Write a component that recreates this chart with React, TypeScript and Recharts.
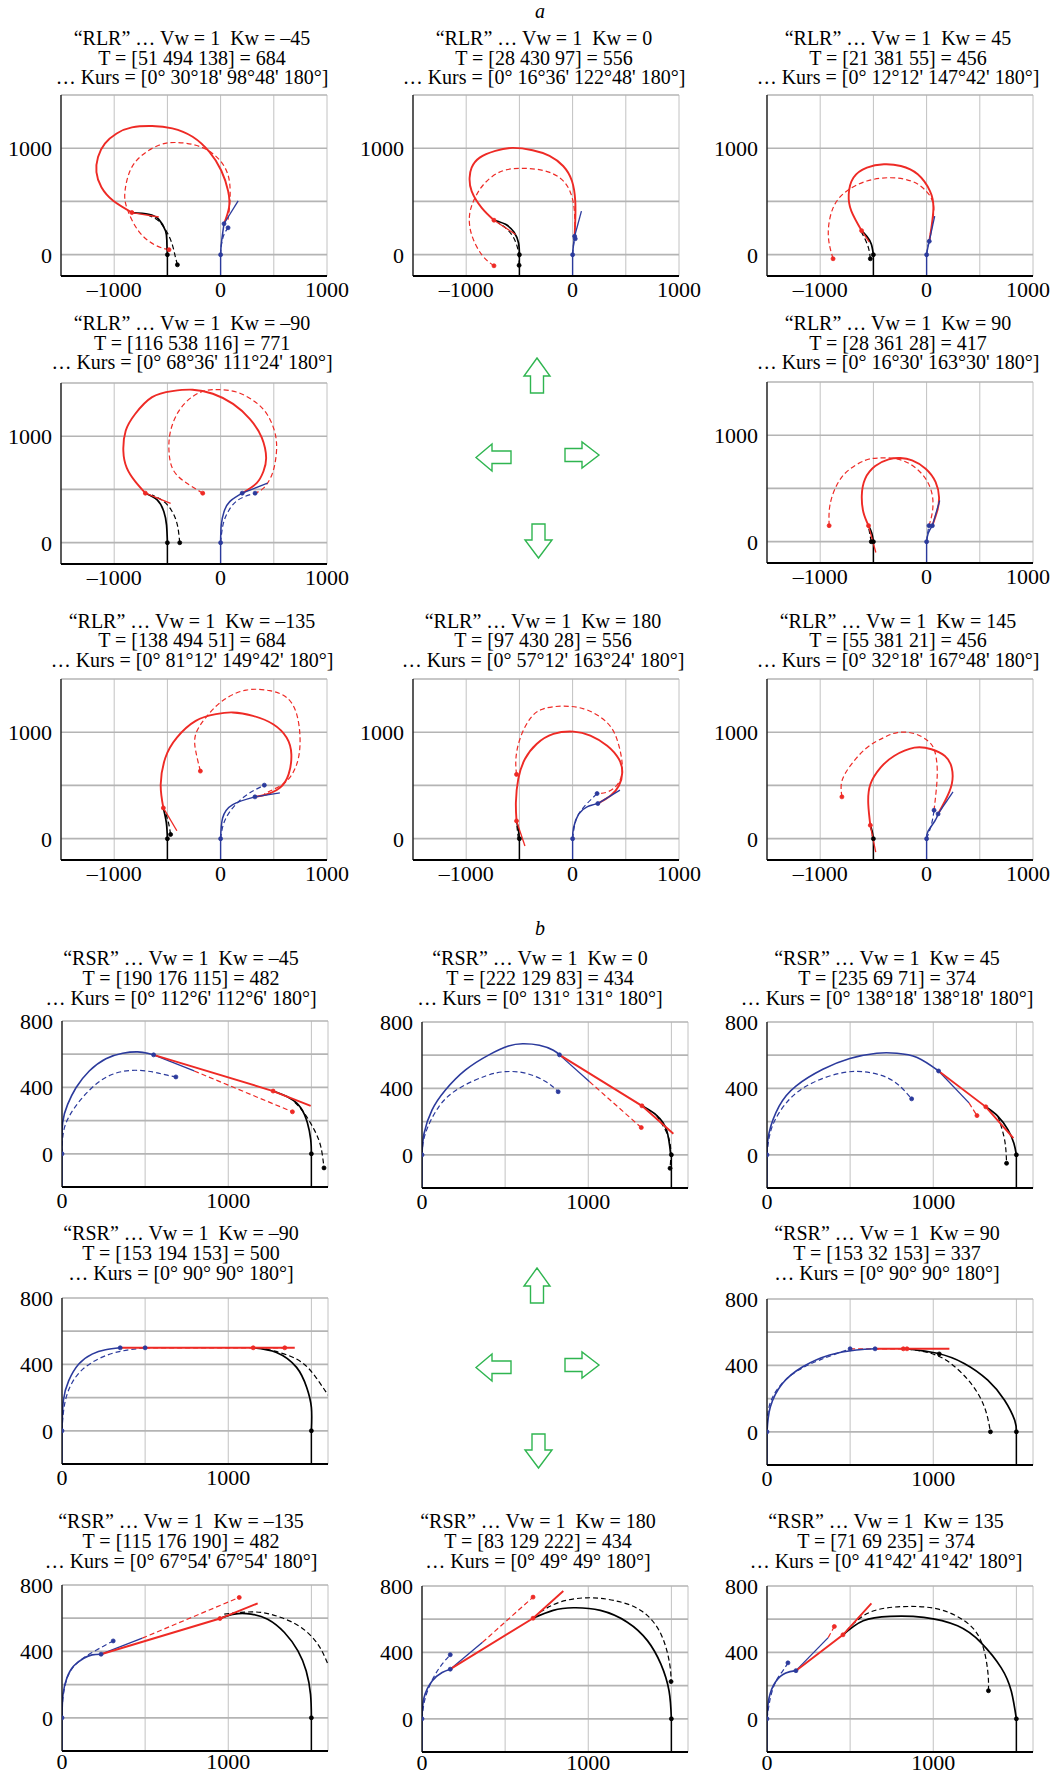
import React from 'react';
import { ComposedChart, Line, XAxis, YAxis, CartesianGrid } from 'recharts';

type P = [number, number];

// ---------- axis ticks / labels ----------
const aXTicks = [-1500, -1000, -500, 0, 500, 1000];
const aXLabels = [-1000, 0, 1000];
const aYTicks = [0, 500, 1000, 1500];
const aYLabels = [0, 1000];
const bXTicks = [0, 500, 1000, 1500];
const bXLabels = [0, 1000];
const bYTicks = [0, 200, 400, 600, 800];
const bYLabels = [0, 400, 800];

// ---------- common stems ----------
const aBlackStem: P[] = [[-500, -200], [-500, 0]];
const aBlueStem: P[] = [[0, -200], [0, 0]];
const bBlueStem: P[] = [[0, -200], [0, 0]];
const bBlackStem: P[] = [[1500, -200], [1500, 0]];

// ---------- panel a1 (RLR, Kw=-45) ----------
const a1Black: P[] = [[-500, 0], [-505, 120], [-517, 222], [-581, 332], [-676, 380], [-834, 396]];
const a1BlackDash: P[] = [[-406, -95], [-430, 0], [-454, 95], [-501, 206], [-581, 316], [-680, 372]];
const a1Red: P[] = [[-834, 396], [-1009, 506], [-1120, 633], [-1167, 775], [-1152, 918], [-1088, 1044], [-977, 1139], [-834, 1196], [-644, 1209], [-454, 1187], [-263, 1108], [-105, 965], [6, 791], [70, 601], [79, 443], [32, 291]];
const a1RedTan: P[] = [[-834, 396], [-581, 354]];
const a1RedDash: P[] = [[-485, 47], [-612, 89], [-771, 222], [-882, 443], [-898, 601], [-850, 791], [-739, 934], [-581, 1028], [-422, 1054], [-232, 1028], [-73, 949], [38, 823], [86, 665], [86, 475], [70, 330]];
const a1Blue: P[] = [[0, 0], [6, 95], [22, 222], [32, 291]];
const a1BlueTan: P[] = [[32, 291], [165, 506]];
const a1BlueDash: P[] = [[0, 0], [8, 95], [32, 190], [70, 253]];
const a1BlackDots: P[] = [[-500, 0], [-406, -95]];
const a1RedDots: P[] = [[-834, 396], [-485, 47]];
const a1BlueDots: P[] = [[0, 0], [32, 291], [70, 253]];

// ---------- panel a2 (RLR, Kw=0) ----------
const a2Black: P[] = [[-500, 0], [-508, 110], [-550, 210], [-630, 285], [-739, 324]];
const a2BlackDash: P[] = [[-503, -100], [-510, 30], [-560, 170], [-640, 260], [-700, 300]];
const a2Red: P[] = [[-739, 324], [-854, 440], [-949, 597], [-968, 723], [-949, 818], [-873, 912], [-726, 975], [-567, 1003], [-376, 981], [-217, 928], [-89, 833], [-6, 692], [25, 503], [25, 314], [19, 173]];
const a2RedTan: P[] = [[-739, 324], [-535, 189]];
const a2RedDash: P[] = [[-739, -104], [-854, 0], [-949, 189], [-968, 377], [-917, 535], [-822, 676], [-662, 786], [-471, 811], [-280, 792], [-121, 723], [-25, 597], [15, 430], [22, 250]];
const a2Blue: P[] = [[0, 0], [8, 90], [19, 173]];
const a2BlueTan: P[] = [[19, 173], [83, 409]];
const a2BlueDash: P[] = [[0, 0], [10, 100], [25, 160]];
const a2BlackDots: P[] = [[-500, 0], [-503, -100]];
const a2RedDots: P[] = [[-739, 324], [-739, -104]];
const a2BlueDots: P[] = [[0, 0], [19, 173], [25, 150]];

// ---------- panel a3 (RLR, Kw=45) ----------
const a3Black: P[] = [[-500, 0], [-520, 100], [-560, 170], [-611, 226]];
const a3BlackDash: P[] = [[-529, -38], [-545, 60], [-580, 150], [-611, 210]];
const a3Red: P[] = [[-611, 226], [-707, 409], [-732, 566], [-688, 723], [-561, 818], [-401, 849], [-242, 833], [-83, 755], [32, 597], [64, 440], [45, 252], [25, 126]];
const a3RedTan: P[] = [[-611, 226], [-540, 120]];
const a3RedDash: P[] = [[-879, -38], [-924, 189], [-879, 440], [-752, 597], [-561, 692], [-338, 723], [-146, 692], [-19, 613], [64, 472], [50, 280], [25, 126]];
const a3Blue: P[] = [[0, 0], [10, 60], [25, 126]];
const a3BlueTan: P[] = [[25, 126], [76, 362]];
const a3BlueDash: P[] = [[0, 0], [8, 60], [18, 110]];
const a3BlackDots: P[] = [[-500, 0], [-529, -38]];
const a3RedDots: P[] = [[-611, 226], [-879, -38]];
const a3BlueDots: P[] = [[0, 0], [25, 126]];

// ---------- panel a4 (RLR, Kw=-90) ----------
const a4Black: P[] = [[-500, 0], [-508, 165], [-533, 291], [-596, 402], [-707, 465]];
const a4BlackDash: P[] = [[-384, 0], [-406, 165], [-454, 291], [-533, 386], [-644, 449]];
const a4Red: P[] = [[-707, 465], [-803, 576], [-882, 703], [-914, 861], [-892, 1051], [-803, 1209], [-644, 1367], [-454, 1424], [-263, 1437], [-73, 1399], [117, 1304], [276, 1161], [387, 987], [428, 797], [403, 671], [339, 560], [203, 465]];
const a4RedTan: P[] = [[-707, 465], [-470, 370]];
const a4RedDash: P[] = [[-168, 465], [-295, 544], [-438, 671], [-485, 861], [-470, 1051], [-390, 1241], [-263, 1373], [-136, 1430], [-10, 1437], [149, 1415], [308, 1335], [435, 1209], [514, 1019], [523, 829], [482, 639], [403, 513], [324, 465]];
const a4Blue: P[] = [[0, 0], [6, 165], [32, 291], [86, 386], [203, 465]];
const a4BlueTan: P[] = [[203, 465], [441, 560]];
const a4BlueDash: P[] = [[0, 0], [22, 165], [70, 291], [165, 402], [324, 465]];
const a4BlackDots: P[] = [[-500, 0], [-384, 0]];
const a4RedDots: P[] = [[-707, 465], [-168, 465]];
const a4BlueDots: P[] = [[0, 0], [203, 465], [324, 465]];

// ---------- panel a6 (RLR, Kw=90) ----------
const a6Black: P[] = [[-500, 0], [-515, 80], [-546, 151]];
const a6BlackDash: P[] = [[-520, 0], [-535, 80], [-546, 140]];
const a6Red: P[] = [[-546, 151], [-594, 277], [-609, 434], [-578, 591], [-483, 711], [-357, 774], [-246, 786], [-136, 764], [-9, 686], [85, 560], [117, 418], [101, 292], [54, 151]];
const a6RedTan: P[] = [[-546, 151], [-477, -101]];
const a6RedDash: P[] = [[-916, 151], [-909, 340], [-846, 528], [-736, 670], [-578, 764], [-452, 786], [-294, 780], [-136, 717], [-9, 591], [54, 434], [54, 277], [22, 151]];
const a6Blue: P[] = [[0, 0], [15, 80], [54, 151]];
const a6BlueTan: P[] = [[54, 151], [123, 387]];
const a6BlueDash: P[] = [[0, 0], [10, 80], [22, 151]];
const a6BlackDots: P[] = [[-500, 0], [-520, 0]];
const a6RedDots: P[] = [[-546, 151], [-916, 151]];
const a6BlueDots: P[] = [[0, 0], [54, 151], [22, 151]];

// ---------- panel a7 (RLR, Kw=-135) ----------
const a7Black: P[] = [[-500, 0], [-510, 150], [-538, 289]];
const a7BlackDash: P[] = [[-470, 40], [-490, 150], [-520, 250]];
const a7Red: P[] = [[-538, 289], [-563, 509], [-519, 761], [-411, 950], [-234, 1107], [-44, 1170], [114, 1186], [304, 1154], [494, 1075], [620, 950], [665, 792], [639, 604], [557, 478], [430, 415], [323, 393]];
const a7RedTan: P[] = [[-538, 289], [-411, 75]];
const a7RedDash: P[] = [[-190, 635], [-234, 824], [-234, 981], [-139, 1138], [19, 1296], [240, 1396], [462, 1390], [620, 1327], [715, 1170], [747, 918], [715, 698], [620, 541], [494, 462], [411, 420]];
const a7Blue: P[] = [[0, 0], [19, 195], [114, 321], [323, 393]];
const a7BlueTan: P[] = [[323, 393], [557, 431]];
const a7BlueDash: P[] = [[0, 0], [51, 195], [209, 384], [411, 503]];
const a7BlackDots: P[] = [[-500, 0], [-470, 40]];
const a7RedDots: P[] = [[-538, 289], [-190, 635]];
const a7BlueDots: P[] = [[0, 0], [323, 393], [411, 503]];

// ---------- panel a8 (RLR, Kw=180) ----------
const a8Black: P[] = [[-500, 0], [-510, 90], [-527, 167]];
const a8BlackDash: P[] = [[-510, 0], [-520, 90], [-527, 150]];
const a8Red: P[] = [[-527, 167], [-533, 340], [-511, 560], [-448, 748], [-338, 890], [-180, 984], [9, 1006], [167, 969], [325, 874], [435, 748], [467, 623], [435, 497], [356, 403], [237, 330]];
const a8RedTan: P[] = [[-527, 167], [-448, -69]];
const a8RedDash: P[] = [[-527, 604], [-533, 748], [-495, 937], [-401, 1126], [-274, 1220], [-85, 1245], [104, 1220], [262, 1142], [372, 1031], [435, 874], [467, 686], [435, 528], [330, 440], [230, 424]];
const a8Blue: P[] = [[0, 0], [9, 104], [57, 230], [136, 299], [237, 330]];
const a8BlueTan: P[] = [[237, 330], [445, 456]];
const a8BlueDash: P[] = [[0, 0], [25, 151], [88, 277], [230, 424]];
const a8BlackDots: P[] = [[-500, 0]];
const a8RedDots: P[] = [[-527, 167], [-527, 604]];
const a8BlueDots: P[] = [[0, 0], [237, 330], [230, 424]];

// ---------- panel a9 (RLR, Kw=145) ----------
const a9Black: P[] = [[-500, 0], [-512, 70], [-529, 126]];
const a9BlackDash: P[] = [[-505, -10], [-515, 60], [-525, 110]];
const a9Red: P[] = [[-529, 126], [-548, 321], [-529, 509], [-433, 667], [-306, 777], [-115, 855], [45, 840], [172, 777], [236, 667], [236, 509], [172, 352], [108, 233]];
const a9RedTan: P[] = [[-529, 126], [-478, -126]];
const a9RedDash: P[] = [[-796, 393], [-796, 541], [-707, 698], [-561, 855], [-401, 950], [-274, 997], [-115, 987], [13, 918], [76, 824], [100, 650], [90, 450], [70, 267]];
const a9Blue: P[] = [[0, 0], [13, 69], [76, 164], [108, 233]];
const a9BlueTan: P[] = [[108, 233], [248, 440]];
const a9BlueDash: P[] = [[0, 0], [45, 132], [70, 267]];
const a9BlackDots: P[] = [[-500, 0]];
const a9RedDots: P[] = [[-529, 126], [-796, 393]];
const a9BlueDots: P[] = [[0, 0], [108, 233], [70, 267]];

// ---------- panel b1 (RSR, Kw=-45) ----------
const b1Blue: P[] = [[0, 0], [4, 187], [34, 298], [84, 398], [164, 499], [264, 573], [365, 606], [455, 614], [515, 606], [551, 596]];
const b1BlueTan: P[] = [[551, 596], [795, 499]];
const b1Red: P[] = [[551, 596], [1270, 378], [1496, 288]];
const b1RedDash: P[] = [[795, 499], [1386, 253]];
const b1Black: P[] = [[1270, 378], [1366, 338], [1436, 278], [1476, 187], [1496, 87], [1500, 0]];
const b1BlackDash: P[] = [[1400, 310], [1456, 247], [1516, 147], [1556, 46], [1576, -85]];
const b1BlueDash: P[] = [[0, 0], [8, 127], [44, 227], [114, 328], [204, 419], [304, 479], [425, 503], [545, 493], [625, 475], [685, 463]];
const b1BlueDots: P[] = [[0, 0], [551, 596], [685, 463]];
const b1RedDots: P[] = [[1270, 378], [1386, 253]];
const b1BlackDots: P[] = [[1500, 0], [1576, -85]];

// ---------- panel b2 (RSR, Kw=0) ----------
const b2Blue: P[] = [[0, 0], [12, 127], [60, 269], [141, 390], [262, 511], [403, 602], [520, 655], [605, 669], [706, 660], [790, 630], [827, 602]];
const b2BlueTan: P[] = [[827, 602], [1008, 440]];
const b2Red: P[] = [[827, 602], [1323, 295], [1512, 127]];
const b2RedDash: P[] = [[1008, 440], [1319, 164]];
const b2Black: P[] = [[1323, 295], [1411, 238], [1472, 147], [1496, 0]];
const b2BlackDash: P[] = [[1411, 238], [1488, 87], [1492, -81]];
const b2BlueDash: P[] = [[0, 0], [20, 127], [101, 289], [222, 400], [383, 475], [504, 501], [625, 491], [746, 440], [819, 380]];
const b2BlueDots: P[] = [[0, 0], [827, 602], [819, 380]];
const b2RedDots: P[] = [[1323, 295], [1319, 164]];
const b2BlackDots: P[] = [[1500, 0], [1492, -81]];

// ---------- panel b3 (RSR, Kw=45) ----------
const b3Blue: P[] = [[0, 0], [12, 131], [73, 293], [174, 414], [336, 515], [498, 580], [660, 612], [781, 612], [903, 586], [1032, 505]];
const b3BlueTan: P[] = [[1032, 505], [1215, 313]];
const b3Red: P[] = [[1032, 505], [1316, 289], [1482, 101]];
const b3RedDash: P[] = [[1215, 313], [1263, 236]];
const b3Black: P[] = [[1316, 289], [1389, 232], [1449, 152], [1485, 70], [1500, 0]];
const b3BlackDash: P[] = [[1389, 232], [1429, 91], [1441, -51]];
const b3BlueDash: P[] = [[0, 0], [32, 172], [134, 333], [275, 434], [457, 495], [619, 495], [761, 444], [870, 337]];
const b3BlueDots: P[] = [[0, 0], [1032, 505], [870, 337]];
const b3RedDots: P[] = [[1316, 289], [1263, 236]];
const b3BlackDots: P[] = [[1500, 0], [1441, -51]];

// ---------- panel b4 (RSR, Kw=-90) ----------
const b4Blue: P[] = [[0, 0], [8, 181], [40, 301], [101, 402], [181, 462], [262, 488], [350, 500]];
const b4Red: P[] = [[350, 500], [1150, 500], [1400, 500]];
const b4RedDash: P[] = [[500, 500], [1340, 500]];
const b4Black: P[] = [[1150, 500], [1290, 472], [1411, 382], [1472, 261], [1500, 141], [1500, 0]];
const b4BlackDash: P[] = [[1180, 500], [1270, 482], [1411, 432], [1512, 342], [1600, 215]];
const b4BlueDash: P[] = [[0, 0], [20, 181], [81, 322], [181, 412], [323, 472], [500, 500]];
const b4BlueDots: P[] = [[0, 0], [350, 500], [500, 500]];
const b4RedDots: P[] = [[1150, 500], [1340, 500]];
const b4BlackDots: P[] = [[1500, 0]];

// ---------- panel b6 (RSR, Kw=90) ----------
const b6Blue: P[] = [[0, 0], [20, 149], [93, 291], [215, 392], [377, 463], [538, 493], [650, 500]];
const b6Red: P[] = [[650, 500], [842, 500], [1097, 500]];
const b6RedDash: P[] = [[500, 500], [820, 500]];
const b6Black: P[] = [[842, 500], [1024, 473], [1186, 412], [1328, 311], [1429, 190], [1490, 69], [1500, 0]];
const b6BlackDash: P[] = [[842, 500], [984, 473], [1105, 412], [1227, 291], [1308, 149], [1344, 0]];
const b6BlueDash: P[] = [[0, 0], [12, 149], [73, 271], [174, 362], [316, 432], [500, 500]];
const b6BlueDots: P[] = [[0, 0], [650, 500], [500, 500]];
const b6RedDots: P[] = [[842, 500], [820, 500]];
const b6BlackDots: P[] = [[1500, 0], [1344, 0], [1036, 469]];

// ---------- panel b7 (RSR, Kw=-135) ----------
const b7Blue: P[] = [[0, 0], [6, 141], [30, 242], [70, 312], [131, 359], [181, 379], [235, 383]];
const b7BlueTan: P[] = [[235, 383], [483, 480]];
const b7Red: P[] = [[235, 383], [950, 598], [1177, 689]];
const b7RedDash: P[] = [[483, 480], [1066, 725]];
const b7Black: P[] = [[950, 598], [1036, 625], [1137, 625], [1237, 594], [1338, 514], [1419, 403], [1469, 282], [1495, 141], [1500, 0]];
const b7BlackDash: P[] = [[976, 625], [1076, 635], [1197, 635], [1318, 604], [1439, 544], [1539, 443], [1600, 322]];
const b7BlueDash: P[] = [[0, 0], [6, 121], [40, 262], [111, 347], [181, 393], [252, 433], [308, 463]];
const b7BlueDots: P[] = [[0, 0], [235, 383], [308, 463]];
const b7RedDots: P[] = [[950, 598], [1066, 725]];
const b7BlackDots: P[] = [[1500, 0]];

// ---------- panel b8 (RSR, Kw=180) ----------
const b8Blue: P[] = [[0, 0], [12, 127], [61, 228], [121, 279], [170, 299]];
const b8BlueTan: P[] = [[170, 299], [364, 461]];
const b8Red: P[] = [[170, 299], [668, 606], [850, 770]];
const b8RedDash: P[] = [[364, 461], [668, 733]];
const b8Black: P[] = [[668, 606], [789, 653], [911, 669], [1073, 653], [1235, 582], [1356, 471], [1437, 329], [1486, 168], [1500, 0]];
const b8BlackDash: P[] = [[709, 642], [830, 703], [992, 729], [1154, 713], [1316, 653], [1437, 511], [1490, 329], [1498, 224]];
const b8BlueDash: P[] = [[0, 0], [20, 127], [69, 248], [121, 329], [170, 386]];
const b8BlueDots: P[] = [[0, 0], [170, 299], [170, 386]];
const b8RedDots: P[] = [[668, 606], [668, 733]];
const b8BlackDots: P[] = [[1500, 0], [1498, 224]];

// ---------- panel b9 (RSR, Kw=135) ----------
const b9Blue: P[] = [[0, 0], [12, 124], [53, 225], [113, 276], [174, 290]];
const b9BlueTan: P[] = [[174, 290], [368, 489]];
const b9Red: P[] = [[174, 290], [457, 506], [628, 696]];
const b9RedDash: P[] = [[368, 489], [405, 556]];
const b9Black: P[] = [[457, 506], [579, 591], [741, 617], [943, 611], [1146, 560], [1287, 459], [1409, 307], [1470, 164], [1500, 0]];
const b9BlackDash: P[] = [[478, 530], [619, 642], [822, 676], [1024, 662], [1186, 591], [1287, 469], [1328, 286], [1332, 169]];
const b9BlueDash: P[] = [[0, 0], [20, 124], [53, 225], [93, 286], [126, 337]];
const b9BlueDots: P[] = [[0, 0], [174, 290], [126, 337]];
const b9RedDots: P[] = [[457, 506], [405, 556]];
const b9BlackDots: P[] = [[1500, 0], [1332, 169]];

// ---------- titles ----------
const a1Title = ['“RLR” … Vw = 1  Kw = –45', 'T = [51 494 138] = 684', '… Kurs = [0° 30°18\' 98°48\' 180°]'];
const a2Title = ['“RLR” … Vw = 1  Kw = 0', 'T = [28 430 97] = 556', '… Kurs = [0° 16°36\' 122°48\' 180°]'];
const a3Title = ['“RLR” … Vw = 1  Kw = 45', 'T = [21 381 55] = 456', '… Kurs = [0° 12°12\' 147°42\' 180°]'];
const a4Title = ['“RLR” … Vw = 1  Kw = –90', 'T = [116 538 116] = 771', '… Kurs = [0° 68°36\' 111°24\' 180°]'];
const a6Title = ['“RLR” … Vw = 1  Kw = 90', 'T = [28 361 28] = 417', '… Kurs = [0° 16°30\' 163°30\' 180°]'];
const a7Title = ['“RLR” … Vw = 1  Kw = –135', 'T = [138 494 51] = 684', '… Kurs = [0° 81°12\' 149°42\' 180°]'];
const a8Title = ['“RLR” … Vw = 1  Kw = 180', 'T = [97 430 28] = 556', '… Kurs = [0° 57°12\' 163°24\' 180°]'];
const a9Title = ['“RLR” … Vw = 1  Kw = 145', 'T = [55 381 21] = 456', '… Kurs = [0° 32°18\' 167°48\' 180°]'];
const b1Title = ['“RSR” … Vw = 1  Kw = –45', 'T = [190 176 115] = 482', '… Kurs = [0° 112°6\' 112°6\' 180°]'];
const b2Title = ['“RSR” … Vw = 1  Kw = 0', 'T = [222 129 83] = 434', '… Kurs = [0° 131° 131° 180°]'];
const b3Title = ['“RSR” … Vw = 1  Kw = 45', 'T = [235 69 71] = 374', '… Kurs = [0° 138°18\' 138°18\' 180°]'];
const b4Title = ['“RSR” … Vw = 1  Kw = –90', 'T = [153 194 153] = 500', '… Kurs = [0° 90° 90° 180°]'];
const b6Title = ['“RSR” … Vw = 1  Kw = 90', 'T = [153 32 153] = 337', '… Kurs = [0° 90° 90° 180°]'];
const b7Title = ['“RSR” … Vw = 1  Kw = –135', 'T = [115 176 190] = 482', '… Kurs = [0° 67°54\' 67°54\' 180°]'];
const b8Title = ['“RSR” … Vw = 1  Kw = 180', 'T = [83 129 222] = 434', '… Kurs = [0° 49° 49° 180°]'];
const b9Title = ['“RSR” … Vw = 1  Kw = 135', 'T = [71 69 235] = 374', '… Kurs = [0° 41°42\' 41°42\' 180°]'];

// ---------- styling ----------
const RED = '#ee2a25';
const BLUE = '#2b3a9c';
const BLACK = '#000000';
const FONT = '"Liberation Serif", "Times New Roman", serif';
const ARROW = '#2fb550';

type Series = { pts: P[]; color: string; dash?: boolean; linear?: boolean; w: number };
type PanelCfg = {
  id: string; kind: 'a' | 'b'; left: number; top: number;
  title: string[]; tx: number; ty: number;
  series: Series[]; dots: { pts: P[]; color: string }[];
};

function seriesA(black: P[], blackDash: P[], red: P[], redTan: P[], redDash: P[], blue: P[], blueTan: P[], blueDash: P[]): Series[] {
  return [
    { pts: aBlackStem, color: BLACK, w: 1.5, linear: true },
    { pts: aBlueStem, color: BLUE, w: 1.4, linear: true },
    { pts: blackDash, color: BLACK, w: 1.2, dash: true },
    { pts: blueDash, color: BLUE, w: 1.2, dash: true },
    { pts: redDash, color: RED, w: 1.2, dash: true },
    { pts: black, color: BLACK, w: 1.7 },
    { pts: blue, color: BLUE, w: 1.5 },
    { pts: red, color: RED, w: 1.9 },
    { pts: redTan, color: RED, w: 1.3, linear: true },
    { pts: blueTan, color: BLUE, w: 1.3, linear: true },
  ];
}
function seriesB(blue: P[], blueTan: P[] | null, red: P[], redDash: P[], black: P[], blackDash: P[], blueDash: P[]): Series[] {
  const s: Series[] = [
    { pts: bBlueStem, color: BLUE, w: 1.5, linear: true },
    { pts: bBlackStem, color: BLACK, w: 1.5, linear: true },
    { pts: blackDash, color: BLACK, w: 1.2, dash: true },
    { pts: blueDash, color: BLUE, w: 1.2, dash: true },
    { pts: redDash, color: RED, w: 1.2, dash: true, linear: true },
    { pts: black, color: BLACK, w: 1.7 },
    { pts: blue, color: BLUE, w: 1.6 },
  ];
  if (blueTan) s.push({ pts: blueTan, color: BLUE, w: 1.3, linear: true });
  s.push({ pts: red, color: RED, w: 1.9, linear: true });
  return s;
}
const dotsOf = (black: P[], red: P[], blue: P[]) => [
  { pts: black, color: BLACK }, { pts: red, color: RED }, { pts: blue, color: BLUE },
];

const panels: PanelCfg[] = [
  { id: 'a1', kind: 'a', left: 61, top: 94.5, title: a1Title, tx: 192, ty: 39, series: seriesA(a1Black, a1BlackDash, a1Red, a1RedTan, a1RedDash, a1Blue, a1BlueTan, a1BlueDash), dots: dotsOf(a1BlackDots, a1RedDots, a1BlueDots) },
  { id: 'a2', kind: 'a', left: 413, top: 94.5, title: a2Title, tx: 544, ty: 39, series: seriesA(a2Black, a2BlackDash, a2Red, a2RedTan, a2RedDash, a2Blue, a2BlueTan, a2BlueDash), dots: dotsOf(a2BlackDots, a2RedDots, a2BlueDots) },
  { id: 'a3', kind: 'a', left: 767, top: 94.5, title: a3Title, tx: 898, ty: 39, series: seriesA(a3Black, a3BlackDash, a3Red, a3RedTan, a3RedDash, a3Blue, a3BlueTan, a3BlueDash), dots: dotsOf(a3BlackDots, a3RedDots, a3BlueDots) },
  { id: 'a4', kind: 'a', left: 61, top: 383, title: a4Title, tx: 192, ty: 324, series: seriesA(a4Black, a4BlackDash, a4Red, a4RedTan, a4RedDash, a4Blue, a4BlueTan, a4BlueDash), dots: dotsOf(a4BlackDots, a4RedDots, a4BlueDots) },
  { id: 'a6', kind: 'a', left: 767, top: 381.5, title: a6Title, tx: 898, ty: 324, series: seriesA(a6Black, a6BlackDash, a6Red, a6RedTan, a6RedDash, a6Blue, a6BlueTan, a6BlueDash), dots: dotsOf(a6BlackDots, a6RedDots, a6BlueDots) },
  { id: 'a7', kind: 'a', left: 61, top: 678.5, title: a7Title, tx: 192, ty: 621.7, series: seriesA(a7Black, a7BlackDash, a7Red, a7RedTan, a7RedDash, a7Blue, a7BlueTan, a7BlueDash), dots: dotsOf(a7BlackDots, a7RedDots, a7BlueDots) },
  { id: 'a8', kind: 'a', left: 413, top: 678.5, title: a8Title, tx: 543, ty: 621.7, series: seriesA(a8Black, a8BlackDash, a8Red, a8RedTan, a8RedDash, a8Blue, a8BlueTan, a8BlueDash), dots: dotsOf(a8BlackDots, a8RedDots, a8BlueDots) },
  { id: 'a9', kind: 'a', left: 767, top: 678.5, title: a9Title, tx: 898, ty: 621.7, series: seriesA(a9Black, a9BlackDash, a9Red, a9RedTan, a9RedDash, a9Blue, a9BlueTan, a9BlueDash), dots: dotsOf(a9BlackDots, a9RedDots, a9BlueDots) },
  { id: 'b1', kind: 'b', left: 62, top: 1020.5, title: b1Title, tx: 181, ty: 959.3, series: seriesB(b1Blue, b1BlueTan, b1Red, b1RedDash, b1Black, b1BlackDash, b1BlueDash), dots: dotsOf(b1BlackDots, b1RedDots, b1BlueDots) },
  { id: 'b2', kind: 'b', left: 422, top: 1022, title: b2Title, tx: 540, ty: 959.3, series: seriesB(b2Blue, b2BlueTan, b2Red, b2RedDash, b2Black, b2BlackDash, b2BlueDash), dots: dotsOf(b2BlackDots, b2RedDots, b2BlueDots) },
  { id: 'b3', kind: 'b', left: 767, top: 1022, title: b3Title, tx: 887, ty: 959.3, series: seriesB(b3Blue, b3BlueTan, b3Red, b3RedDash, b3Black, b3BlackDash, b3BlueDash), dots: dotsOf(b3BlackDots, b3RedDots, b3BlueDots) },
  { id: 'b4', kind: 'b', left: 62, top: 1297.5, title: b4Title, tx: 181, ty: 1234.3, series: seriesB(b4Blue, null, b4Red, b4RedDash, b4Black, b4BlackDash, b4BlueDash), dots: dotsOf(b4BlackDots, b4RedDots, b4BlueDots) },
  { id: 'b6', kind: 'b', left: 767, top: 1299, title: b6Title, tx: 887, ty: 1234.3, series: seriesB(b6Blue, null, b6Red, b6RedDash, b6Black, b6BlackDash, b6BlueDash), dots: dotsOf(b6BlackDots, b6RedDots, b6BlueDots) },
  { id: 'b7', kind: 'b', left: 62, top: 1585, title: b7Title, tx: 181, ty: 1522.3, series: seriesB(b7Blue, b7BlueTan, b7Red, b7RedDash, b7Black, b7BlackDash, b7BlueDash), dots: dotsOf(b7BlackDots, b7RedDots, b7BlueDots) },
  { id: 'b8', kind: 'b', left: 422, top: 1585.5, title: b8Title, tx: 538, ty: 1522.3, series: seriesB(b8Blue, b8BlueTan, b8Red, b8RedDash, b8Black, b8BlackDash, b8BlueDash), dots: dotsOf(b8BlackDots, b8RedDots, b8BlueDots) },
  { id: 'b9', kind: 'b', left: 767, top: 1585.5, title: b9Title, tx: 886, ty: 1522.3, series: seriesB(b9Blue, b9BlueTan, b9Red, b9RedDash, b9Black, b9BlackDash, b9BlueDash), dots: dotsOf(b9BlackDots, b9RedDots, b9BlueDots) },
];

const toXY = (pts: P[]) => pts.map(([x, y]) => ({ x, y }));
const fmt = (v: number) => (v < 0 ? '–' + Math.abs(v) : String(v));

function Panel({ p }: { p: PanelCfg }) {
  const isA = p.kind === 'a';
  const W = 266;
  const H = isA ? 181 : 166;
  const ML = 60, MT = 16, MR = 34, XH = 36;
  const xDomain = isA ? [-1500, 1000] : [0, 1600];
  const yDomain = isA ? [-200, 1500] : [-200, 800];
  const xTicks = isA ? aXTicks : bXTicks;
  const yTicks = isA ? aYTicks : bYTicks;
  const xLabels = isA ? aXLabels : bXLabels;
  const yLabels = isA ? aYLabels : bYLabels;
  const tickStyle = { fontSize: 22, fill: '#000', fontFamily: FONT };
  // last column, section a: keep the rightmost label inside the page
  const edgeShift = isA && p.left > 700 ? -5 : 0;
  // bottom row sits at the page edge
  const bottomRow = p.top > 1500;
  const renderXTick = (props: any) => {
    const { x, y, payload } = props;
    const v = payload.value as number;
    if (!xLabels.includes(v)) return <g />;
    const dx = v === 1000 ? edgeShift : 0;
    return (
      <text x={x + dx} y={y - (bottomRow ? 3 : 0)} dy="0.71em" textAnchor="middle" fontSize={22} fill="#000" fontFamily={FONT}>
        {fmt(v)}
      </text>
    );
  };
  return (
    <div style={{ position: 'absolute', left: p.left - ML, top: p.top - MT }}>
      <ComposedChart width={ML + W + MR} height={MT + H + XH} margin={{ top: MT, right: MR, bottom: 0, left: 0 }}>
        <CartesianGrid horizontal={false} stroke="#c2c2c2" strokeWidth={1} />
        <CartesianGrid vertical={false} stroke="#b4b4b4" strokeWidth={1.7} />
        <XAxis
          type="number" dataKey="x" domain={xDomain} ticks={xTicks} interval={0} allowDataOverflow
          tickLine={false} tickSize={0} tickMargin={5} height={XH}
          axisLine={{ stroke: '#000', strokeWidth: 2.2 }} tick={renderXTick}
        />
        <YAxis
          type="number" domain={yDomain} ticks={yTicks} interval={0} allowDataOverflow
          tickLine={false} tickSize={0} tickMargin={9} width={ML}
          axisLine={{ stroke: '#000', strokeWidth: 1.2 }} tick={tickStyle}
          tickFormatter={(v: number) => (yLabels.includes(v) ? fmt(v) : '')}
        />
        {p.series.map((s, i) => (
          <Line
            key={p.id + 's' + i} data={toXY(s.pts)} dataKey="y" type={s.linear ? 'linear' : 'natural'}
            stroke={s.color} strokeWidth={s.w} strokeDasharray={s.dash ? '5 3' : undefined}
            dot={false} activeDot={false} isAnimationActive={false} legendType="none"
          />
        ))}
        {p.dots.map((d, i) => (
          <Line
            key={p.id + 'd' + i} data={toXY(d.pts)} dataKey="y" stroke="none"
            dot={{ r: 2, fill: d.color, stroke: d.color, strokeWidth: 0.8 }}
            activeDot={false} isAnimationActive={false} legendType="none"
          />
        ))}
      </ComposedChart>
    </div>
  );
}

function Title({ p }: { p: PanelCfg }) {
  return (
    <div style={{
      position: 'absolute', left: p.tx - 200, top: p.ty - 10, width: 400, textAlign: 'center',
      fontFamily: FONT, fontSize: 20, lineHeight: '19.7px', whiteSpace: 'pre', color: '#000',
    }}>
      {p.title.map((l, i) => <div key={i}>{l}</div>)}
    </div>
  );
}

function Arrows({ dy }: { dy: number }) {
  const up = [[537, 358], [550, 376], [543.5, 376], [543.5, 393], [530.5, 393], [530.5, 376], [524, 376]];
  const left = [[476, 457.5], [492, 444], [492, 451], [511, 451], [511, 463.5], [492, 463.5], [492, 471]];
  const right = [[599, 455], [582, 442], [582, 448.5], [565, 448.5], [565, 461.5], [582, 461.5], [582, 468]];
  const down = [[538.5, 558], [552, 540], [545, 540], [545, 524], [532, 524], [532, 540], [525, 540]];
  const toPts = (a: number[][]) => a.map(([x, y]) => `${x},${y + dy}`).join(' ');
  return (
    <>
      {[up, left, right, down].map((a, i) => (
        <polygon key={i} points={toPts(a)} fill="#fff" stroke={ARROW} strokeWidth={1.4} strokeLinejoin="miter" />
      ))}
    </>
  );
}

export default function App() {
  return (
    <div style={{ position: 'absolute', left: 0, top: 0, width: 1053, height: 1773, background: '#fff', overflow: 'hidden' }}>
      <svg width={1053} height={1773} style={{ position: 'absolute', left: 0, top: 0 }}>
        <Arrows dy={0} />
        <Arrows dy={910} />
      </svg>
      <div style={{ position: 'absolute', left: 520, top: 0, width: 40, textAlign: 'center', fontFamily: FONT, fontStyle: 'italic', fontSize: 20 }}>a</div>
      <div style={{ position: 'absolute', left: 520, top: 917, width: 40, textAlign: 'center', fontFamily: FONT, fontStyle: 'italic', fontSize: 20 }}>b</div>
      {panels.map((p) => <Title key={'t' + p.id} p={p} />)}
      {panels.map((p) => <Panel key={p.id} p={p} />)}
    </div>
  );
}
